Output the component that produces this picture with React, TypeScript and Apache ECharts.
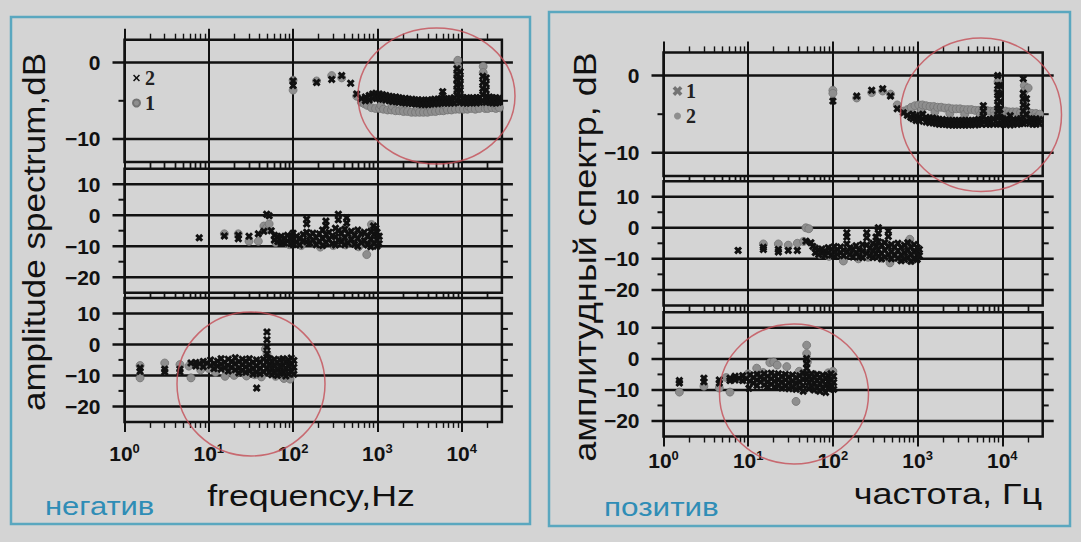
import React, { useEffect, useRef } from 'react';
import * as echarts from 'echarts';

// ---------- tick values ----------
const xMajorTicks = [1, 10, 100, 1000, 10000];
const xMinorTicks = [2, 3, 4, 5, 6, 7, 8, 9, 20, 30, 40, 50, 60, 70, 80, 90, 200, 300, 400, 500, 600, 700, 800, 900, 2000, 3000, 4000, 5000, 6000, 7000, 8000, 9000, 20000];
const yTopMajor = [0, -10];
const yTopMinor = [-5];
const yLowMajor = [10, 0, -10, -20];
const yLowMinor = [5, -5, -15];

// ---------- data: [frequency Hz, dB values at that frequency...] ----------
// left panel (негатив): crosses = series "2", circles = series "1"
const negTopCross = [
  [100, -3.0, -2.4], [190, -2.6], [287, -2.2], [377, -1.7], [482, -2.7], [568, -4.1], [646, -4.7],
  [720, -4.5, -5.0], [800, -4.3, -4.9], [880, -4.1, -4.7], [960, -4.0, -4.6], [1050, -4.1, -4.7], [1150, -4.2, -4.8],
  [1260, -4.3, -4.9], [1380, -4.4, -5.0], [1510, -4.5, -5.1], [1650, -4.5, -5.1], [1800, -4.6, -5.2], [1970, -4.7, -5.2],
  [2150, -4.7, -5.3], [2350, -4.8, -5.3], [2570, -4.8, -5.4], [2800, -4.9, -5.4], [3060, -4.9, -5.4], [3350, -4.9, -5.5],
  [3660, -5.0, -5.5], [4000, -4.9, -5.5], [4370, -4.9, -5.4], [4780, -4.8, -5.4], [5220, -4.8, -5.4], [5700, -4.7, -5.3],
  [5950, -3.8, -4.3], [6230, -4.7, -5.3], [6800, -4.8, -5.3], [7430, -4.7, -5.3], [8120, -4.6, -5.3],
  [8800, -0.8, -1.5, -2.2, -2.9, -3.6, -4.3, -5.0], [9600, -1.2, -2.0, -2.8, -3.6, -4.4, -5.2],
  [10500, -4.6, -5.3], [11500, -4.6, -5.3], [12500, -4.7, -5.3], [13700, -4.6, -5.2], [15000, -4.6, -5.3], [16300, -4.6, -5.2],
  [17800, -1.8, -2.6, -3.4, -4.2, -5.0], [19500, -2.0, -2.8, -3.6, -4.4, -5.2],
  [21300, -4.5, -5.2], [23300, -4.6, -5.3], [25400, -4.6, -5.3], [27500, -4.7, -5.2],
];
const negTopCircle = [
  [100, -2.3, -3.6], [190, -2.4], [287, -1.7], [377, -2.0], [568, -4.4], [646, -5.2], [700, -5.4], [760, -5.6],
  [850, -5.9], [950, -6.0], [1060, -6.0], [1100, -5.6], [1180, -6.1], [1320, -6.2], [1470, -6.2], [1500, -5.7],
  [1640, -6.3], [1830, -6.3], [2000, -5.8], [2040, -6.4], [2280, -6.4], [2540, -6.5], [2830, -6.5], [3000, -5.9],
  [3160, -6.5], [3520, -6.5], [3930, -6.5], [4200, -5.9], [4380, -6.4], [4890, -6.4], [5450, -6.3], [6080, -6.3],
  [6500, -5.8], [6780, -6.2], [7560, -6.2], [8430, -6.1], [9000, 0.3, -0.5, -1.5, -2.5, -3.5], [9400, -6.1],
  [10500, -6.1], [11700, -6.1], [12000, -5.7], [13000, -6.0], [14500, -6.1], [16200, -6.0], [18000, -0.5, -1.3],
  [19000, -6.0], [20000, -5.6], [20500, -6.0], [22800, -5.9], [25400, -6.0], [26000, -5.6], [28000, -5.9],
];
const negMidCross = [
  [7.7, -7.3], [15.3, -6.7], [22.4, -6.5, -7.6], [30, -6.8], [38.7, -6.0], [45, -5.2], [48.6, 0.3], [52, -0.2], [55, -5.0],
  [60, -6.5, -8.0], [66, -7.0, -8.5], [72, -6.8, -8.9], [79, -7.5, -9.0], [86, -6.5, -8.3], [94, -7.2, -9.2],
  [100, -5.8, -7.5, -9.5], [110, -6.8, -8.8], [120, -7.5, -9.6], [132, -6.2, -8.2], [145, -1.3, -2.8, -5.5, -8.6],
  [158, -6.8, -9.0], [172, -5.8, -8.0], [188, -7.2, -9.5], [205, -6.0, -8.4], [224, -4.8, -7.5, -9.8],
  [245, -1.9, -3.4, -6.2, -8.8], [267, -5.5, -7.8], [292, -6.6, -9.2], [318, -4.2, -7.0, -9.6], [344, 0.3, -1.5, -5.0, -8.0],
  [375, -5.8, -8.6], [410, -4.5, -7.2, -9.5], [432, -0.8, -2.5], [448, -6.0, -9.0], [490, -5.2, -7.8], [535, -6.5, -9.4],
  [585, -4.8, -7.5, -10.0], [640, -6.0, -8.8], [700, -5.5, -8.2], [765, -6.8, -9.6], [835, -5.2, -7.8, -10.2],
  [900, -3.5], [910, -6.2, -9.0], [960, -4.2], [990, -5.5, -8.0, -10.0], [1050, -6.8, -9.2],
];
const negMidCircle = [
  [15.3, -6.0], [22.4, -6.0], [30, -8.4], [38.7, -8.4], [45, -3.5], [48.6, -4.0], [52, -2.8], [62, -8.8], [75, -7.5],
  [90, -9.5], [105, -8.0], [125, -9.8], [150, -7.2], [180, -9.2], [210, -10.3], [250, -8.0], [300, -9.8], [350, -7.0],
  [420, -9.6], [500, -8.5], [600, -10.2], [747, -12.7], [800, -9.5], [850, -3.0], [950, -9.0], [1000, -7.5],
];
const negBotCross = [
  [1.53, -7.6, -8.7], [3.0, -8.0, -8.9], [4.55, -8.0, -8.9], [6.15, -6.0],
  [7.0, -5.8, -7.0], [7.8, -6.2], [8.6, -5.5, -7.2], [9.5, -6.0], [10.5, -5.0, -6.8], [11.5, -6.2, -7.8], [12.7, -5.4, -7.0],
  [14, -4.6, -6.4, -8.0], [15.4, -5.8, -7.5], [17, -4.8, -6.8, -8.6], [18.7, -5.5, -7.4], [20.6, -4.3, -6.2, -8.2],
  [22.7, -5.6, -7.6, -9.2], [25, -4.8, -6.6, -8.4], [27.5, -5.4, -7.2, -9.0], [30.3, -4.6, -6.5, -8.5],
  [33.4, -5.8, -7.8, -9.6], [36.8, -5.0, -7.0, -9.0], [37, -14.1], [40.5, -5.6, -7.6, -9.5], [44.6, -4.8, -6.8, -8.8],
  [49, 4.0, 1.5, -0.8, -3.0, -5.5, -7.8], [52, -4.6, -6.5, -9.0], [56, -5.5, -7.5, -9.8], [60, -4.8, -7.0, -9.2],
  [65, -5.8, -7.8, -10.0], [70, -5.0, -7.2, -9.4], [76, -4.6, -6.8, -9.0], [82, -5.6, -7.6, -10.2], [88, -5.0, -7.0, -9.5],
  [95, -4.4, -6.4, -8.8], [102, -5.2, -7.4, -9.6],
];
const negBotCircle = [
  [1.53, -10.8, -6.8], [3.0, -6.0], [4.55, -6.5], [5.8, -7.0], [6.15, -10.8], [8, -8.2], [10, -7.8], [12, -9.0],
  [15.6, -10.3], [18, -8.8], [20, -10.0], [24, -9.0], [28, -10.2], [32, -8.0], [35, -9.8], [42, -10.5], [47, -1.5],
  [49, -3.0], [50, -4.5], [55, -9.0], [62, -10.3], [70, -8.5], [78, -11.0], [85, -10.0], [92, -11.2], [98, -9.2],
];
// right panel (позитив): crosses = series "1", circles = series "2"
const posTopCross = [
  [100, -3.3], [191, -2.65], [287, -1.9], [387, -1.7], [479, -2.65], [575, -4.3], [680, -4.8], [756, -5.15], [830, -5.4],
  [880, -5.0, -5.6], [960, -5.2, -5.8], [1050, -5.3, -5.9], [1150, -5.0, -5.6], [1260, -5.4, -6.0], [1380, -5.5, -6.1],
  [1510, -5.5, -6.1], [1650, -5.6, -6.2], [1800, -5.7, -6.3], [1970, -5.7, -6.3], [2150, -5.8, -6.3], [2350, -5.8, -6.4],
  [2570, -5.8, -6.4], [2800, -5.8, -6.4], [3060, -5.8, -6.4], [3350, -5.8, -6.4], [3660, -5.8, -6.4], [4000, -5.8, -6.4],
  [4370, -5.8, -6.3], [4780, -5.8, -6.4], [5220, -5.7, -6.3], [5700, -5.7, -6.3], [5970, -3.9, -4.6, -5.3],
  [6500, -5.7, -6.3], [7100, -5.7, -6.3], [7800, -5.6, -6.3], [8830, 0, -1.3, -2.2, -3.0, -3.8, -4.6, -5.4, -6.2],
  [9400, -1.3, -2.4, -3.4, -4.4, -5.4, -6.3], [10300, -5.7, -6.3], [11300, -5.6, -6.3], [12400, -5.2, -5.8, -6.4],
  [13600, -5.7, -6.3], [15000, -5.7, -6.3], [16400, -5.6, -6.2], [17700, -0.4, -2.3, -3.0, -3.8, -4.6, -5.4, -6.2],
  [19300, -3.0, -4.0, -5.0, -6.0], [21000, -5.6, -6.2], [23000, -5.7, -6.3], [25000, -5.6, -6.3], [27300, -5.7, -6.2],
];
const posTopCircle = [
  [100, -1.9, -2.3], [191, -2.9], [287, -2.2], [387, -2.0], [479, -2.4], [575, -3.8], [680, -4.6], [760, -4.4],
  [840, -4.1], [930, -3.9], [1030, -3.8], [1100, -4.5], [1140, -3.8], [1260, -3.9], [1400, -4.0], [1550, -4.0],
  [1600, -4.7], [1720, -4.1], [1900, -4.1], [2100, -4.2], [2330, -4.2], [2400, -4.9], [2580, -4.3], [2860, -4.3],
  [3170, -4.3], [3510, -4.4], [3600, -5.0], [3890, -4.4], [4310, -4.4], [4780, -4.5], [5300, -4.5], [5500, -5.1],
  [5870, -4.5], [6500, -4.5], [7200, -4.6], [8000, -4.6, -5.2], [8900, -0.8, -2.0], [9800, -4.6], [10900, -4.6],
  [12000, -4.7, -5.2], [13300, -4.7], [14800, -4.7], [16400, -4.8], [18000, -5.3], [18200, -1.3, -2.0, -3.2],
  [20200, -1.6, -4.8], [22400, -4.9], [24900, -4.9], [25000, -5.4], [27600, -5.0],
];
const posMidCross = [
  [7.6, -7.3], [15.1, -7.0, -6.3], [22.7, -7.0, -7.8], [29.7, -7.3], [38, -7.3], [48, -4.3], [55, -4.8], [58, -6.0],
  [62, -6.6, -8.0], [68, -7.2, -8.6], [74, -6.8, -8.2], [81, -7.5, -8.9], [88, -6.4, -8.0], [96, -7.0, -8.8],
  [104, -6.0, -7.6, -9.2], [113, -7.0, -8.6], [123, -6.2, -8.0], [134, -7.2, -9.0], [146, -1.6, -3.0, -5.2, -7.8],
  [159, -6.4, -8.6], [173, -7.0, -9.4], [188, -5.8, -8.0], [205, -7.2, -9.4], [224, -5.4, -7.6, -9.6],
  [251, -1.6, -3.2, -5.6, -8.2], [273, -6.6, -9.0], [297, -5.0, -7.4, -9.6], [323, -3.0, -6.0, -8.4],
  [344, 0, -1.8, -4.5, -7.0, -9.2], [375, -5.6, -8.2, -10.0], [410, -4.8, -7.2, -9.4], [451, -1.0, -2.8, -6.0, -8.6],
  [490, -5.4, -7.8, -10.0], [535, -6.2, -8.8], [585, -5.0, -7.4, -9.8], [640, -6.4, -8.8, -10.6], [700, -5.6, -8.0, -10.2],
  [765, -4.8, -7.2, -9.6], [835, -6.2, -8.6, -10.8], [910, -5.4, -7.8, -10.0], [990, -6.4, -8.8, -10.2], [1050, -7.0, -9.0],
];
const posMidCircle = [
  [15.1, -5.2], [22.7, -5.2], [29.7, -5.6], [38, -5.0], [45, -4.4], [48, 0], [52, -0.3], [70, -8.5], [90, -9.2],
  [133, -10.7], [160, -8.0], [200, -10.0], [260, -9.5], [300, -8.0], [380, -9.8], [472, -11.3], [520, -9.0],
  [620, -10.2], [720, -8.8], [810, -3.7], [840, -10.5], [950, -9.5], [1000, -7.5],
];
const posBotCross = [
  [1.54, -7.0, -7.8], [3.0, -6.2, -7.4], [4.56, -6.8, -7.8], [6.1, -6.2, -7.0],
  [7.0, -5.6, -6.8], [7.8, -6.2], [8.6, -5.4, -7.0], [9.5, -6.4], [10.2, -9.5], [10.5, -5.2, -7.2], [11.5, -6.0, -7.8],
  [12.7, -5.0, -6.8, -8.6], [14, -5.8, -7.4], [15.4, -4.8, -6.6, -8.4], [17, -5.6, -7.4, -9.0], [18.7, -4.6, -6.4, -8.2],
  [20.6, -5.4, -7.2, -9.0], [22.7, -4.8, -6.8, -8.6], [25, -5.6, -7.4, -9.4], [27.5, -5.0, -6.8, -8.8],
  [30.3, -5.8, -7.6, -9.6], [33.4, -5.2, -7.2, -9.2], [36.8, -6.0, -7.8, -9.8], [40.5, -5.4, -7.4, -9.4],
  [44.6, -4.6, -6.6, -8.6, -10.4], [49, 0.1, -1.5, -3.0, -4.8, -6.6], [52, -5.6, -7.6, -9.6], [56, -4.8, -6.8, -9.0],
  [60, -5.8, -7.8, -10.0], [65, -5.0, -7.0, -9.2], [70, -6.0, -8.0, -10.4], [76, -5.2, -7.2, -9.4], [82, -6.2, -8.2, -10.8],
  [88, -5.4, -7.4, -9.6], [95, -4.8, -6.8, -9.0], [102, -5.6, -7.6, -9.8],
];
const posBotCircle = [
  [1.54, -10.7], [3.0, -8.8], [4.56, -9.4], [5.5, -6.0], [6.1, -10.7], [8.5, -6.5], [10, -4.8], [12.6, -3.0],
  [15, -4.4], [18, -1.2], [20, -1.0], [22, -2.0], [25, -8.5], [28.5, -2.5], [32, -9.0], [36.7, -13.7], [40, -4.0],
  [44, -9.8], [49, 4.4, 1.7], [50, -1.0], [55, -8.0], [60, -5.0], [65, -10.0], [72, -7.0], [80, -9.5], [88, -4.5],
  [95, -7.5], [100, -4.0],
];

// ---------- styles & layout ----------
const INK = '#111111';
const GRAY = '#8e8e8e';
const TEAL = '#2f8db6';
const PANEL_EDGE = '#5aa7bf';
const PAGE_BG = '#d4d4d4';
const RED = 'rgba(196,78,86,0.8)';
const SANS = "'Liberation Sans', Arial, Helvetica, sans-serif";
const SERIF = "'Liberation Serif', 'Times New Roman', serif";
const CROSS = 'path://M0,2.6L2.6,0L5,2.4L7.4,0L10,2.6L7.6,5L10,7.4L7.4,10L5,7.6L2.6,10L0,7.4L2.4,5Z';
const LEGEND_CROSS = 'path://M0,1.6L1.6,0L5,3.4L8.4,0L10,1.6L6.6,5L10,8.4L8.4,10L5,6.6L1.6,10L0,8.4L3.4,5Z';
const X_MIN = 1;
const X_MAX = 30000;
const X_MID = Math.sqrt(X_MIN * X_MAX); // centre of the log range
const TICK_L = 12; // outward length of major y ticks, left
const TICK_R = 11; // outward length of major y ticks, right
const MINOR = 6;

const LAYOUT = [
  { left: 124.5, top: 39.7, width: 377.4, height: 122.2, ymin: -13, ymax: 3, first: true, last: false, xMargin: 20 },
  { left: 124.5, top: 168.7, width: 377.4, height: 124.0, ymin: -25, ymax: 15, first: false, last: false, xMargin: 20 },
  { left: 124.5, top: 297.9, width: 377.4, height: 124.0, ymin: -25, ymax: 15, first: false, last: true, xMargin: 20 },
  { left: 663.5, top: 52.4, width: 379.2, height: 123.6, ymin: -13, ymax: 3, first: true, last: false, xMargin: 12 },
  { left: 663.5, top: 181.2, width: 379.2, height: 124.2, ymin: -25, ymax: 15, first: false, last: false, xMargin: 12 },
  { left: 663.5, top: 312.3, width: 379.2, height: 124.2, ymin: -25, ymax: 15, first: false, last: true, xMargin: 12 },
];

const SERIES_DEFS = [
  { name: '1', grid: 0, rows: negTopCircle, kind: 'circle' },
  { name: '2', grid: 0, rows: negTopCross, kind: 'cross' },
  { name: '1', grid: 1, rows: negMidCircle, kind: 'circle' },
  { name: '2', grid: 1, rows: negMidCross, kind: 'cross' },
  { name: '1', grid: 2, rows: negBotCircle, kind: 'circle' },
  { name: '2', grid: 2, rows: negBotCross, kind: 'cross' },
  { name: '2', grid: 3, rows: posTopCircle, kind: 'circle' },
  { name: '1', grid: 3, rows: posTopCross, kind: 'cross' },
  { name: '2', grid: 4, rows: posMidCircle, kind: 'circle' },
  { name: '1', grid: 4, rows: posMidCross, kind: 'cross' },
  { name: '2', grid: 5, rows: posBotCircle, kind: 'circle' },
  { name: '1', grid: 5, rows: posBotCross, kind: 'cross' },
];

const toPoints = (rows: number[][]) => rows.flatMap(([f, ...vs]) => vs.map((v) => [f, v]));

function buildX(g: number, first: boolean, last: boolean, margin: number) {
  const common: any = {
    type: 'log', logBase: 10, min: X_MIN, max: X_MAX, gridIndex: g,
    axisLine: { show: false, onZero: false }, splitLine: { show: false }, axisLabel: { show: false },
  };
  const tick = (vals: number[], len: number, w: number) => ({
    show: true, inside: false, length: len, customValues: vals, lineStyle: { color: INK, width: w },
  });
  return [
    {
      ...common, position: 'bottom',
      splitLine: { show: true, lineStyle: { color: INK, width: 2 } },
      axisTick: tick(xMajorTicks, last ? 10 : 6, 2),
      axisLabel: last ? {
        show: true, customValues: xMajorTicks, margin,
        formatter: (v: number) => `{b|10}{s|${Math.round(Math.log10(v))}}`,
        rich: {
          b: { fontSize: 21, fontWeight: 'bold', fontFamily: SANS, color: INK, lineHeight: 24 },
          s: { fontSize: 13, fontWeight: 'bold', fontFamily: SANS, color: INK, lineHeight: 14, verticalAlign: 'top' },
        },
      } : { show: false },
    },
    { ...common, position: 'bottom', axisTick: tick(xMinorTicks, 6, 1.4) },
    { ...common, position: 'top', axisTick: tick(xMajorTicks, first ? 11 : 6, 2) },
    { ...common, position: 'top', axisTick: tick(xMinorTicks, 6, 1.4) },
  ];
}

function buildY(g: number, ymin: number, ymax: number) {
  const majors = ymin === -13 ? yTopMajor : yLowMajor;
  return {
    type: 'value', min: ymin, max: ymax, gridIndex: g, position: 'left',
    axisLine: { show: false, onZero: false }, axisTick: { show: false }, splitLine: { show: false },
    axisLabel: {
      show: true, customValues: majors, margin: 24, color: INK, fontSize: 21, fontWeight: 'bold', fontFamily: SANS,
      formatter: (v: number) => String(v).replace('-', '\u2212'),
    },
  };
}

// horizontal grid lines running past the frame as ticks (a long bar symbol per major value,
// centred on the log range) and short minor ticks on both sides, placed by each grid's y scale
function ruleItems(g: number) {
  const l = LAYOUT[g];
  const majors = l.ymin === -13 ? yTopMajor : yLowMajor;
  const minors = l.ymin === -13 ? yTopMinor : yLowMinor;
  const bar = { color: INK, borderWidth: 0, opacity: 1 };
  return [
    ...majors.map((v) => ({
      value: [X_MID, v], symbol: 'rect',
      symbolSize: [l.width + TICK_L + TICK_R, 2.5], symbolOffset: [(TICK_R - TICK_L) / 2, 0], itemStyle: bar,
    })),
    ...minors.flatMap((v) => [
      { value: [X_MIN, v], symbol: 'rect', symbolSize: [MINOR, 2], symbolOffset: [-MINOR / 2, 0], itemStyle: bar },
      { value: [X_MAX, v], symbol: 'rect', symbolSize: [MINOR, 2], symbolOffset: [MINOR / 2, 0], itemStyle: bar },
    ]),
  ];
}

function textEl(text: string, x: number, y: number, size: number, opts: any = {}) {
  return {
    type: 'text', x, y, silent: true, z: 60,
    rotation: opts.rotation || 0, scaleX: opts.scaleX || 1, scaleY: 1,
    style: {
      text, fontSize: size, fontFamily: SANS, fontWeight: opts.weight || 'normal', fill: opts.color || INK,
      align: opts.align || 'center', textAlign: opts.align || 'center',
      verticalAlign: 'middle', textVerticalAlign: 'middle',
    },
  };
}

function buildOption() {
  const grid = LAYOUT.map((l) => ({
    left: l.left, top: l.top, width: l.width, height: l.height,
    show: true, borderColor: INK, borderWidth: 2.5, backgroundColor: 'transparent',
    containLabel: false, outerBoundsMode: 'none',
  }));
  const xAxis = LAYOUT.flatMap((l, g) => buildX(g, l.first, l.last, l.xMargin));
  const yAxis = LAYOUT.map((l, g) => buildY(g, l.ymin, l.ymax));
  const series = SERIES_DEFS.map((d) => ({
    type: 'scatter', name: d.name, xAxisIndex: d.grid * 4, yAxisIndex: d.grid,
    data: d.kind === 'circle' ? [...ruleItems(d.grid), ...toPoints(d.rows)] : toPoints(d.rows),
    silent: true, clip: false,
    symbol: d.kind === 'cross' ? CROSS : 'circle',
    symbolSize: 8,
    itemStyle: d.kind === 'cross'
      ? { color: INK, opacity: 1 }
      : { color: GRAY, borderColor: '#737373', borderWidth: 0.8, opacity: 1 },
    z: d.kind === 'cross' ? 4 : 3,
  }));
  const legendCommon: any = {
    orient: 'vertical', itemWidth: 7, itemHeight: 7, itemGap: 5, selectedMode: false, padding: 0,
    textStyle: { fontFamily: SERIF, fontSize: 20, color: '#222', fontWeight: 'bold' },
  };
  const legend = [
    { ...legendCommon, left: 132, top: 68, data: [
      { name: '2', icon: LEGEND_CROSS, itemStyle: { color: INK } },
      { name: '1', icon: 'circle', itemStyle: { color: GRAY } },
    ] },
    { ...legendCommon, left: 673, top: 81, data: [
      { name: '1', icon: LEGEND_CROSS, itemStyle: { color: INK } },
      { name: '2', icon: 'circle', itemStyle: { color: GRAY } },
    ] },
  ];
  const ellipse = (cx: number, cy: number, rx: number, ry: number) => ({
    type: 'ellipse', silent: true, z: 50, shape: { cx, cy, rx, ry },
    style: { fill: 'none', stroke: RED, lineWidth: 1.5 },
  });
  const graphic = [
    { type: 'rect', silent: true, z: 50, shape: { x: 11, y: 17, width: 519, height: 507 },
      style: { fill: 'none', stroke: PANEL_EDGE, lineWidth: 2.5 } },
    { type: 'rect', silent: true, z: 50, shape: { x: 549, y: 12, width: 521, height: 514 },
      style: { fill: 'none', stroke: PANEL_EDGE, lineWidth: 2.5 } },
    ellipse(436.5, 96, 78.5, 68),
    ellipse(251, 384, 74, 72),
    ellipse(981, 114.8, 80.5, 76.7),
    ellipse(794, 394, 74.5, 70),
    textEl('frequency,Hz', 311, 496, 30, { scaleX: 1.19 }),
    textEl('частота, Гц', 1042, 493.5, 30, { scaleX: 1.2, align: 'right' }),
    textEl('amplitude spectrum,dB', 34, 232, 31, { rotation: Math.PI / 2, scaleX: 1.13 }),
    textEl('амплитудный спектр, dB', 585, 257, 31, { rotation: Math.PI / 2, scaleX: 1.16 }),
    textEl('негатив', 45, 506, 26, { scaleX: 1.19, align: 'left', color: TEAL }),
    textEl('позитив', 604, 507, 26, { scaleX: 1.21, align: 'left', color: TEAL }),
  ];
  return {
    animation: false,
    backgroundColor: PAGE_BG,
    grid, xAxis, yAxis, series, legend, graphic,
  };
}

export default function App() {
  const ref = useRef<HTMLDivElement>(null);
  useEffect(() => {
    if (!ref.current) return;
    const chart = echarts.init(ref.current, undefined, { renderer: 'svg' });
    chart.setOption(buildOption() as any);
    return () => chart.dispose();
  }, []);
  return (
    <div
      ref={ref}
      style={{ position: 'fixed', left: 0, top: 0, width: 1081, height: 542 }}
    />
  );
}
